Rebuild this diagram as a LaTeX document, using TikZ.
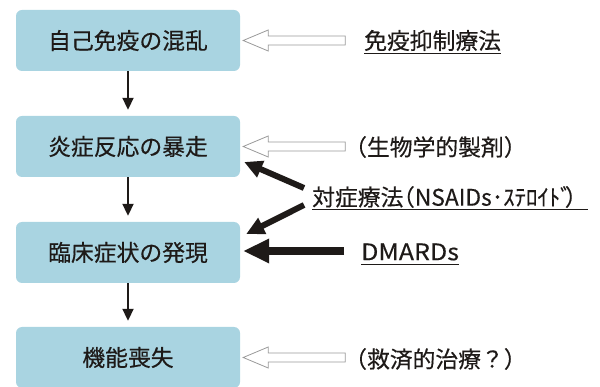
\documentclass[tikz,border=0pt]{standalone}
\usepackage{fontspec}
\setmainfont{Noto Sans CJK JP}[FakeBold=0.35]
\usetikzlibrary{arrows.meta,calc}
\definecolor{boxblue}{HTML}{A9D4E1}
\definecolor{ink}{HTML}{1E1A18}
\definecolor{hollowgray}{HTML}{9A9A9A}
\newcommand\hollowarr[1]{\draw[hollow] (#1) -- ++(25,-10.5) -- ++(0,6) -- ++(77,0) -- ++(0,9) -- ++(-77,0) -- ++(0,6) -- cycle;}
\begin{document}
\begin{tikzpicture}[x=1pt,y=-1pt,
  box/.style={fill=boxblue, rounded corners=6pt, minimum width=224pt, minimum height=61pt,
    font=\fontsize{22.8}{22.8}\selectfont, text=ink, inner sep=0pt},
  down/.style={draw=ink, line width=2pt, shorten >=6pt, -{Triangle[length=12pt,width=11pt]}},
  hollow/.style={draw=hollowgray, line width=0.8pt, fill=white},
  txt/.style={font=\fontsize{22.8}{22.8}\selectfont, text=ink, anchor=west, inner sep=0pt},
  uline/.style={draw=ink, line width=1.3pt},
  diag/.style={draw=ink, line width=6pt, -{Triangle[length=18pt,width=17pt]}},
  thick arrow/.style={draw=ink, line width=8.5pt, -{Triangle[length=26pt,width=23pt]}}]
\useasboundingbox (0,0) rectangle (600,387);

\node[box] (b1) at (128,40.5) {自己免疫の混乱};
\node[box] (b2) at (128,146.5) {炎症反応の暴走};
\node[box] (b3) at (128,252.5) {臨床症状の発現};
\node[box] (b4) at (128,357.5) {機能喪失};

\draw[down] (b1.south) -- (b2.north);
\draw[down] (b2.south) -- (b3.north);
\draw[down] (b3.south) -- (b4.north);

\coordinate (h1) at ([xshift=3pt]b1.east);
\coordinate (h2) at ([xshift=3pt]b2.east);
\coordinate (h4) at ([xshift=3pt]b4.east);
\hollowarr{h1}
\hollowarr{h2}
\hollowarr{h4}

\node[txt] (t1) at (364,40.5) {免疫抑制療法};
\node[txt] (t2) at (344,147) {（生物学的製剤）};
\node[txt] (t3) at (312,197) {対症療法\hspace{-0.5em}（NSAIDs･ｽﾃﾛｲﾄﾞ\hspace{-0.3em}）\hspace{-0.5em}};
\node[txt] (t4) at (361,252) {\scalebox{1.1}[1]{DMARDs}};
\node[txt] (t5) at (344,359) {（救済的治療？）};

\draw[uline] ([yshift=-4pt]t1.base west) -- ([yshift=-4pt]t1.base east);
\draw[uline] ([yshift=-4pt]t3.base west) -- ([yshift=-4pt]t3.base east);
\draw[uline] ([yshift=-4pt]t4.base west) -- ([yshift=-4pt]t4.base east);

\coordinate (s1) at (304,188);
\coordinate (s2) at (304,205);
\coordinate (s3) at (344,251);
\draw[diag] (s1) -- ([xshift=4pt,yshift=-15.5pt]b2.east);
\draw[diag] (s2) -- ([xshift=6pt,yshift=18.5pt]b3.east);
\draw[thick arrow] (s3) -- ([xshift=3pt,yshift=1.5pt]b3.east);
\end{tikzpicture}
\end{document}
